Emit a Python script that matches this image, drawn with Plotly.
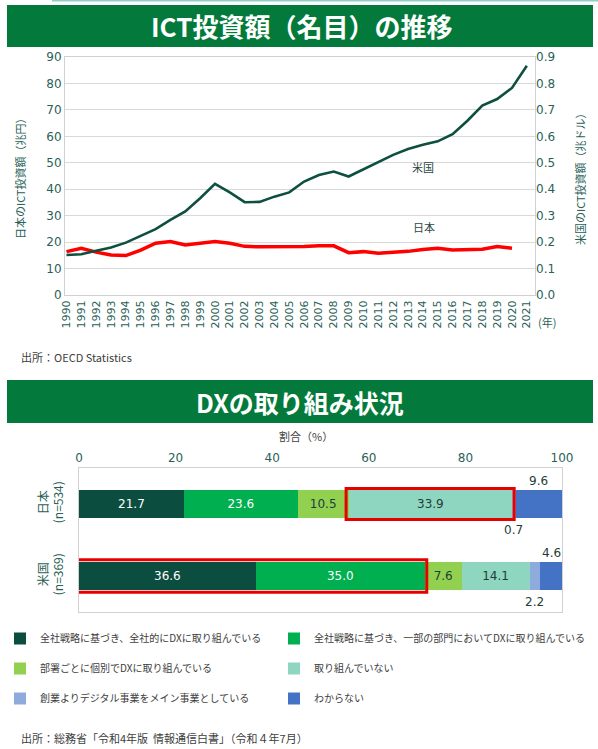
import plotly.graph_objects as go

# ---------------- data ----------------
years = list(range(1990, 2022))
japan_ict_trillion_yen = [16.4, 17.7, 16.2, 15.1, 14.9, 17.0, 19.6, 20.2, 18.9, 19.6,
                          20.2, 19.6, 18.4, 18.2, 18.2, 18.3, 18.3, 18.6, 18.6, 16.0,
                          16.4, 15.8, 16.0, 16.5, 17.2, 17.7, 17.0, 17.3, 17.3, 18.3,
                          17.7]
us_ict_trillion_usd = [0.151, 0.154, 0.167, 0.180, 0.198, 0.223, 0.249, 0.284, 0.316, 0.366,
                       0.420, 0.388, 0.351, 0.352, 0.372, 0.388, 0.429, 0.454, 0.467, 0.448,
                       0.476, 0.501, 0.530, 0.552, 0.568, 0.581, 0.608, 0.659, 0.716, 0.741,
                       0.783, 0.867]

dx_countries = ["米国<br>(n=369)", "日本<br>(n=534)"]
dx_categories = ["全社戦略に基づき、全社的にDXに取り組んでいる",
                 "全社戦略に基づき、一部の部門においてDXに取り組んでいる",
                 "部署ごとに個別でDXに取り組んでいる",
                 "取り組んでいない",
                 "創業よりデジタル事業をメイン事業としている",
                 "わからない"]
dx_us = [36.6, 35.0, 7.6, 14.1, 2.2, 4.6]
dx_japan = [21.7, 23.6, 10.5, 33.9, 0.7, 9.6]

# ---------------- style ----------------
W, H = 598, 749
FONT = "DejaVu Sans, Noto Sans CJK JP"
CJK = "Noto Sans CJK JP"
TEAL_TXT = "#2b5f58"
GREEN_BAND = "#037a3b"
bar_colors = ["#0b4d3f", "#00b050", "#92d050", "#8fd6c1", "#8faadc", "#4472c4"]
bar_text_colors = ["white", "white", "#1f3d38", "#1f3d38", "#1f3d38", "white"]


def px(x):
    return x / W


def py(y):
    return 1 - y / H


fig = go.Figure()

# ---- chart 1: lines ----
fig.add_trace(go.Scatter(x=years[:len(japan_ict_trillion_yen)], y=japan_ict_trillion_yen,
                         mode="lines", line=dict(color="#ff0000", width=3.5),
                         name="日本", showlegend=False, xaxis="x", yaxis="y"))
fig.add_trace(go.Scatter(x=years, y=us_ict_trillion_usd, mode="lines",
                         line=dict(color="#0e4f40", width=2.6),
                         name="米国", showlegend=False, xaxis="x", yaxis="y2"))

# ---- chart 2: stacked bars ----
for i, cat in enumerate(dx_categories):
    vals = [dx_us[i], dx_japan[i]]
    texts = [f"{v:.1f}" if v >= 5 and i != 5 else "" for v in vals]
    fig.add_trace(go.Bar(
        x=vals, y=dx_countries, orientation="h", name=cat,
        marker=dict(color=bar_colors[i], line=dict(width=0)),
        text=texts, textposition="inside", insidetextanchor="middle",
        textangle=0, constraintext="none",
        textfont=dict(color=bar_text_colors[i], size=12, family=FONT),
        width=0.39, xaxis="x3", yaxis="y3",
        legend="legend" if i % 2 == 0 else "legend2", legendgroup=f"g{i}",
        hoverinfo="x+name"))

annotations = []
shapes = []

# outside labels for small segments / last segment
for ci, vals in enumerate([dx_us, dx_japan]):
    cum = 0
    for i, v in enumerate(vals):
        mid = cum + v / 2
        cum += v
        if i == 4:
            annotations.append(dict(x=mid, y=ci - 0.36, xref="x3", yref="y3",
                                    xanchor="center", yanchor="middle",
                                    text=f"{v:.1f}", showarrow=False,
                                    font=dict(size=12, color="#1f3d38", family=FONT)))
        if i == 5:
            annotations.append(dict(x=mid, y=ci + 0.32, xref="x3", yref="y3",
                                    xanchor="center", yanchor="middle",
                                    text=f"{v:.1f}", showarrow=False,
                                    font=dict(size=12, color="#1f3d38", family=FONT)))

# red highlight boxes (Japan: 取り組んでいない ; US: first two segments)
jp_start = sum(dx_japan[:3])
jp_end = jp_start + dx_japan[3]
shapes.append(dict(type="rect", xref="x3", yref="y3", x0=jp_start - 0.5, x1=jp_end + 0.4,
                   y0=1 - 0.215, y1=1 + 0.215, line=dict(color="#e60000", width=3)))
us_end = dx_us[0] + dx_us[1]
shapes.append(dict(type="rect", xref="x3", yref="y3", x0=-0.5, x1=us_end + 0.4,
                   y0=-0.225, y1=0.225, line=dict(color="#e60000", width=3)))

# green title bands
for (y0, y1) in [(5, 47), (380, 423)]:
    shapes.append(dict(type="rect", xref="paper", yref="paper", x0=px(7), x1=px(593),
                       y0=py(y1), y1=py(y0), fillcolor=GREEN_BAND, line=dict(width=0),
                       layer="below"))
shapes.append(dict(type="line", xref="paper", yref="paper", x0=px(52), x1=1,
                   y0=py(0.7), y1=py(0.7), line=dict(color="#8fcfc6", width=1.5)))


def note(text, x, y, size=11, color="#404040", xanchor="center", angle=0, bold=False):
    return dict(text=f"<b>{text}</b>" if bold else text, x=px(x), y=py(y),
                xref="paper", yref="paper", showarrow=False, xanchor=xanchor,
                yanchor="middle", textangle=angle,
                font=dict(size=size, color=color, family=CJK))


annotations += [
    note("ICT投資額（名目）の推移", 301, 26, size=26, color="white", bold=True),
    note("DXの取り組み状況", 300, 401.5, size=25, color="white", bold=True),
    note("米国", 423, 167, color="#2b4a44"),
    note("日本", 424, 227, color="#2b4a44"),
    note("(年)", 536, 322, color=TEAL_TXT, xanchor="left"),
    note("日本のICT投資額（兆円）", 20, 176, color=TEAL_TXT, angle=-90),
    note("米国のICT投資額（兆ドル）", 580, 176, color=TEAL_TXT, angle=-90),
    note("出所：OECD Statistics", 19, 357, xanchor="left"),
    note("割合（%）", 306, 436),
    note("出所：総務省「令和4年版  情報通信白書」（令和４年7月）", 19, 738, xanchor="left"),
]

legend_common = dict(orientation="v", xref="container", yref="container", xanchor="left",
                     yanchor="top", y=py(624),
                     font=dict(size=10, color="#404040", family=CJK), traceorder="grouped",
                     bgcolor="rgba(0,0,0,0)", itemwidth=30, tracegroupgap=11)

ax_common = dict(automargin=False)

fig.update_layout(
    template="none",
    width=W, height=H, margin=dict(l=0, r=0, t=0, b=0, autoexpand=False),
    paper_bgcolor="white", plot_bgcolor="rgba(0,0,0,0)",
    font=dict(family=FONT, size=12, color=TEAL_TXT),
    barmode="stack",
    showlegend=True,
    legend=dict(legend_common, x=0),
    legend2=dict(legend_common, x=px(274)),
    xaxis=dict(ax_common, domain=[px(65), px(535)], range=[1989.9, 2021.55], tickmode="array",
               tickvals=years, ticktext=[str(y) for y in years], tickangle=-90,
               tickfont=dict(size=11, color=TEAL_TXT), showgrid=False, zeroline=False,
               showline=True, linecolor="#d0d0d0", linewidth=1, mirror=True, ticks=""),
    yaxis=dict(ax_common, domain=[py(295), py(57)], range=[0, 90], dtick=10,
               tickfont=dict(size=12, color=TEAL_TXT), showgrid=True, gridcolor="#d9d9d9",
               zeroline=False, showline=True, linecolor="#d0d0d0", mirror=True, ticks=""),
    yaxis2=dict(ax_common, overlaying="y", side="right", range=[0, 0.9], dtick=0.1, tickformat=".1f",
                tickfont=dict(size=12, color=TEAL_TXT), showgrid=False, zeroline=False,
                anchor="x", ticks=""),
    xaxis3=dict(ax_common, domain=[px(79), px(562)], range=[0, 100], dtick=20, side="top",
                anchor="y3", tickfont=dict(size=12, color=TEAL_TXT), showgrid=False,
                zeroline=False, showline=True, linecolor="#d0d0d0", mirror=True, ticks=""),
    yaxis3=dict(ax_common, domain=[py(612), py(468)], range=[-0.5, 1.5], anchor="x3",
                categoryorder="array", categoryarray=dx_countries, tickangle=-90,
                ticklabelstandoff=10,
                tickfont=dict(size=12, color=TEAL_TXT, family=CJK), showgrid=False,
                zeroline=False, showline=True, linecolor="#d0d0d0", mirror=True, ticks=""),
    annotations=annotations, shapes=shapes,
)

fig.write_html("out.html", config={"displayModeBar": False},
               post_script="document.body.style.margin='0';document.body.style.padding='0';")
